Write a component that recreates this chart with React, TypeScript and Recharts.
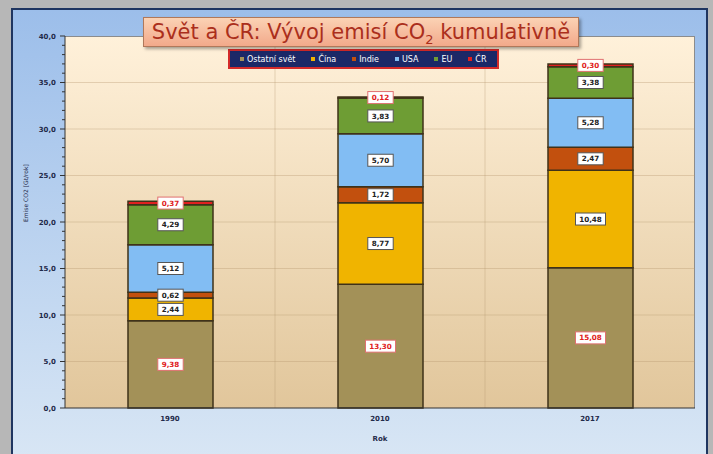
import React from 'react';
import { BarChart, Bar, XAxis, YAxis, CartesianGrid, Legend, LabelList } from 'recharts';

const years = ['1990', '2010', '2017'];
const ostatniSvet = [9.38, 13.3, 15.08];
const cina = [2.44, 8.77, 10.48];
const indie = [0.62, 1.72, 2.47];
const usa = [5.12, 5.7, 5.28];
const eu = [4.29, 3.83, 3.38];
const cr = [0.37, 0.12, 0.3];
const yMajorTicks = [0, 5, 10, 15, 20, 25, 30, 35, 40];
const yTicks = Array.from({ length: 41 }, (_, i) => i);

const series = [
  { key: 'ostatni', name: 'Ostatní svět', color: '#a39158', values: ostatniSvet, red: true },
  { key: 'cina', name: 'Čína', color: '#f0b400', values: cina, red: false },
  { key: 'indie', name: 'Indie', color: '#c2500e', values: indie, red: false },
  { key: 'usa', name: 'USA', color: '#82bdf3', values: usa, red: false },
  { key: 'eu', name: 'EU', color: '#6e9d34', values: eu, red: false },
  { key: 'cr', name: 'ČR', color: '#e02020', values: cr, red: true },
];

const data = years.map((rok, i) => {
  const row: any = { rok };
  series.forEach((s) => (row[s.key] = s.values[i]));
  return row;
});

const fmt = (v: number, d: number) => v.toFixed(d).replace('.', ',');

const makeLabel = (red: boolean) => (props: any) => {
  const { x, y, width, height, value } = props;
  const txt = fmt(Number(value), 2);
  const w = txt.length * 4.6 + 7;
  const h = 12;
  const cx = x + width / 2;
  const cy = y + height / 2;
  return (
    <g>
      <rect x={cx - w / 2} y={cy - h / 2} width={w} height={h} fill="#ffffff" stroke={red ? '#e07070' : '#555'} strokeWidth={1} />
      <text x={cx} y={cy + 2.6} textAnchor="middle" fontSize={7.2} fontWeight="bold" fontFamily="DejaVu Sans" fill={red ? '#e02020' : '#222'}>
        {txt}
      </text>
    </g>
  );
};

const YTick = (props: any) => {
  const { x, y, payload } = props;
  const v = payload.value;
  const major = v % 5 === 0;
  const ax = x + 8;
  return (
    <g>
      <line x1={ax - (major ? 5 : 3)} x2={ax} y1={y} y2={y} stroke="#333" strokeWidth={1} />
      {major && (
        <text x={x - 1} y={y + 2.5} textAnchor="end" fontSize={7} fontWeight="bold" fontFamily="DejaVu Sans" fill="#1f2a4a">
          {fmt(v, 1)}
        </text>
      )}
    </g>
  );
};

const LegendBox = () => (
  <div style={{ display: 'flex', alignItems: 'center', background: '#1b2867', border: '2px solid #d42a2a', padding: '2px 10px', height: 12, gap: 16 }}>
    {series.map((s) => (
      <span key={s.key} style={{ display: 'flex', alignItems: 'center', color: '#fff', fontSize: 8, fontFamily: 'DejaVu Sans' }}>
        <span style={{ width: 4, height: 4, background: s.color, marginRight: 3, display: 'inline-block' }} />
        {s.name}
      </span>
    ))}
  </div>
);

export default function App() {
  return (
    <div style={{ position: 'absolute', left: 0, top: 0, width: 713, height: 454, background: '#b7b7b7', overflow: 'hidden' }}>
      <div style={{ position: 'absolute', left: 11, top: 8, width: 693, height: 470, border: '2px solid #1f3560', background: 'linear-gradient(#9cbeea, #dbe8f5)' }} />
      <div style={{ position: 'absolute', left: 65, top: 36, width: 629, height: 371, borderTop: '1px solid #8c8c8c', borderRight: '1px solid #8c8c8c', background: 'linear-gradient(#fff1da, #e1c69b)' }} />
      <div style={{ position: 'absolute', left: 0, top: 0 }}>
        <BarChart width={713} height={454} data={data} margin={{ top: 36, right: 18, bottom: 0, left: 0 }}>
          <CartesianGrid
            stroke="rgba(180,150,110,0.35)"
            horizontalValues={yMajorTicks.slice(1, -1)}
            verticalCoordinatesGenerator={({ offset }: any) => [offset.left + offset.width / 3, offset.left + (2 * offset.width) / 3]}
          />
          <XAxis
            dataKey="rok"
            height={46}
            tickLine={false}
            axisLine={{ stroke: '#333' }}
            tick={{ fontSize: 7, fontWeight: 'bold', fontFamily: 'DejaVu Sans', fill: '#1f2a4a' }}
            label={{ value: 'Rok', position: 'insideBottom', offset: 13, fontSize: 7, fontWeight: 'bold', fontFamily: 'DejaVu Sans', fill: '#1f2a4a' }}
          />
          <YAxis
            width={65}
            domain={[0, 40]}
            ticks={yTicks}
            interval={0}
            tickSize={5}
            tickMargin={3}
            tickLine={{ stroke: 'none' }}
            axisLine={{ stroke: '#333' }}
            tick={<YTick />}
            label={{ value: 'Emise CO2 [Gt/rok]', angle: -90, position: 'insideLeft', offset: 26, fontSize: 6, fontFamily: 'DejaVu Sans', fill: '#1f2a4a' }}
          />
          <Legend verticalAlign="middle" align="center" layout="horizontal" content={<LegendBox />} wrapperStyle={{ left: 228, top: 49, width: 'auto' }} />
          {series.map((s) => (
            <Bar key={s.key} dataKey={s.key} name={s.name} stackId="a" fill={s.color} stroke="#3f3219" strokeWidth={1.5} barSize={85} isAnimationActive={false}>
              <LabelList dataKey={s.key} content={makeLabel(s.red)} />
            </Bar>
          ))}
        </BarChart>
      </div>
      <div style={{ position: 'absolute', left: 143, top: 17, width: 434, height: 28, background: 'linear-gradient(#fbd2b4, #f2a98a)', border: '1px solid #b0785a', boxShadow: '2px 2px 3px rgba(0,0,0,0.35)', color: '#ab2f1c', fontFamily: 'DejaVu Sans', fontSize: 21, lineHeight: '28px', textAlign: 'center', whiteSpace: 'nowrap' }}>
        Svět a ČR: Vývoj emisí CO<sub style={{ fontSize: 13, lineHeight: 0, verticalAlign: -5 }}>2</sub> kumulativně
      </div>
    </div>
  );
}
